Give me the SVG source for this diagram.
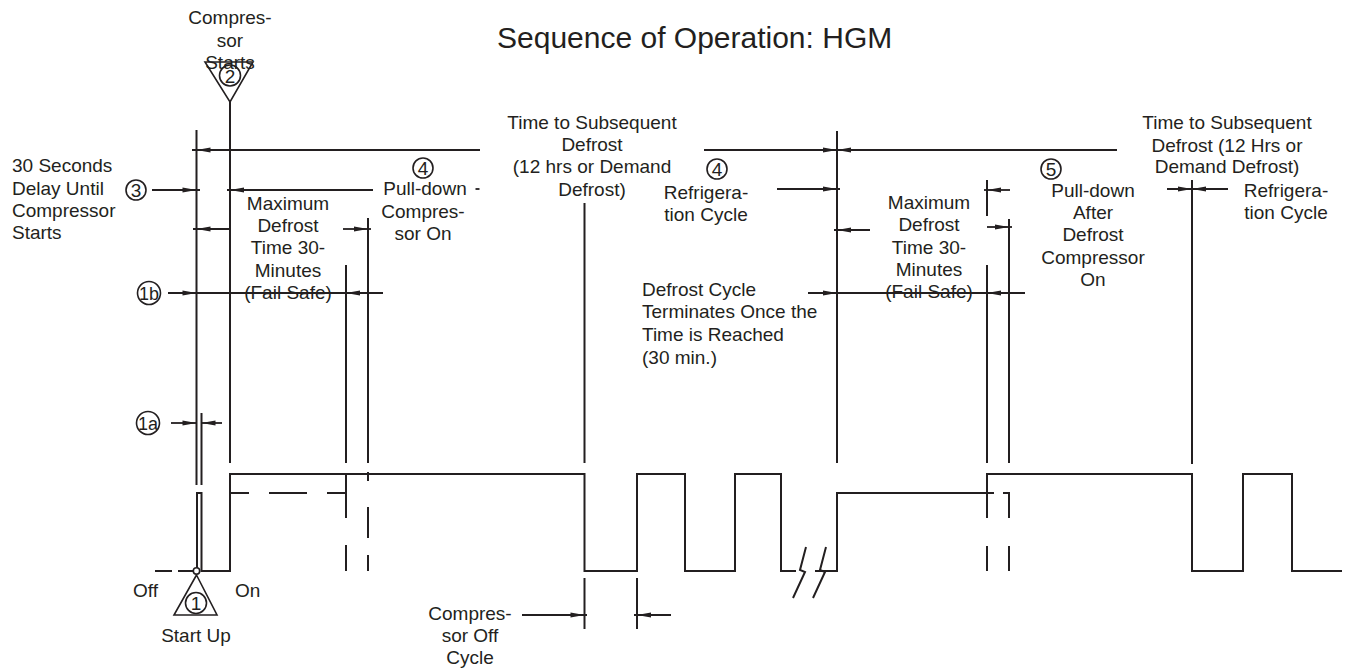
<svg xmlns="http://www.w3.org/2000/svg" xmlns:xlink="http://www.w3.org/1999/xlink" width="1348" height="671" viewBox="0 0 1348 671">
<style>
.l{stroke:#231f20;stroke-width:2;fill:none}
.a{stroke:#231f20;stroke-width:1.8;fill:none}
.t{font-family:"Liberation Sans",Arial,Helvetica,sans-serif;font-size:19px;fill:#231f20}
.c{text-anchor:middle}
.ci{fill:#fff;stroke:#231f20;stroke-width:1.6}
.cn{fill:none;stroke:#231f20;stroke-width:1.6}
</style>
<defs>
<path id="ahR" d="M0,0 L-14,-2.6 L-14,2.6 Z" fill="#231f20"/>
<path id="ahL" d="M0,0 L14,-2.6 L14,2.6 Z" fill="#231f20"/>
</defs>
<rect width="1348" height="671" fill="#fff"/>

<g id="title"><text class="t" x="497" y="48" style="font-size:30px">Sequence of Operation: HGM</text></g>

<g id="connectors">
<!-- vertical reference lines -->
<line class="l" x1="196.5" y1="130" x2="196.5" y2="485"/>
<line class="l" x1="201.5" y1="413" x2="201.5" y2="485"/>
<line class="l" x1="230" y1="102" x2="230" y2="463"/>
<line class="l" x1="346" y1="265" x2="346" y2="463"/>
<line class="l" x1="368" y1="218" x2="368" y2="463"/>
<line class="l" x1="584.5" y1="203" x2="584.5" y2="463"/>
<line class="l" x1="837" y1="131" x2="837" y2="463"/>
<line class="l" x1="987" y1="180" x2="987" y2="216"/>
<line class="l" x1="987" y1="265" x2="987" y2="463"/>
<line class="l" x1="1009" y1="219" x2="1009" y2="463"/>
<line class="l" x1="1192" y1="180" x2="1192" y2="464"/>
<!-- top span line -->
<line class="a" x1="192" y1="150" x2="480" y2="150"/>
<use xlink:href="#ahL" x="196.5" y="150"/>
<line class="a" x1="704" y1="150" x2="1117" y2="150"/>
<use xlink:href="#ahR" x="837" y="150"/>
<use xlink:href="#ahL" x="837" y="150"/>
<!-- row 190 -->
<line class="a" x1="152" y1="190" x2="200" y2="190"/>
<use xlink:href="#ahR" x="196.5" y="190"/>
<line class="a" x1="227" y1="190" x2="373" y2="190"/>
<use xlink:href="#ahL" x="230" y="190"/>
<line class="a" x1="475.5" y1="189" x2="479.5" y2="189"/>
<line class="a" x1="777" y1="189" x2="840" y2="189"/>
<use xlink:href="#ahR" x="837" y="189"/>
<line class="a" x1="984" y1="190" x2="1010" y2="190"/>
<use xlink:href="#ahL" x="987" y="190"/>
<line class="a" x1="1167" y1="189" x2="1228" y2="189"/>
<use xlink:href="#ahR" x="1192" y="189"/>
<use xlink:href="#ahL" x="1192" y="189"/>
<!-- row 229 -->
<line class="a" x1="193" y1="229" x2="229" y2="229"/>
<use xlink:href="#ahL" x="196.5" y="229"/>
<line class="a" x1="343" y1="229" x2="371" y2="229"/>
<use xlink:href="#ahR" x="368" y="229"/>
<line class="a" x1="834" y1="230" x2="870" y2="230"/>
<use xlink:href="#ahL" x="837" y="230"/>
<line class="a" x1="987" y1="227" x2="1012" y2="227"/>
<use xlink:href="#ahR" x="1009" y="227"/>
<!-- row 293 -->
<line class="a" x1="168" y1="293" x2="383" y2="293"/>
<use xlink:href="#ahR" x="196.5" y="293"/>
<use xlink:href="#ahL" x="346" y="293"/>
<line class="a" x1="808" y1="293" x2="1025" y2="293"/>
<use xlink:href="#ahR" x="837" y="293"/>
<use xlink:href="#ahL" x="987" y="293"/>
<!-- row 423 (1a) -->
<line class="a" x1="171" y1="423" x2="196.5" y2="423"/>
<use xlink:href="#ahR" x="196.5" y="423"/>
<line class="a" x1="201.5" y1="423" x2="222" y2="423"/>
<use xlink:href="#ahL" x="201.5" y="423"/>
<!-- compressor off cycle -->
<line class="l" x1="584.5" y1="578" x2="584.5" y2="629"/>
<line class="l" x1="637" y1="578" x2="637" y2="629"/>
<line class="a" x1="522" y1="615" x2="587" y2="615"/>
<use xlink:href="#ahR" x="584.5" y="615"/>
<line class="a" x1="634" y1="615" x2="671" y2="615"/>
<use xlink:href="#ahL" x="637" y="615"/>
<!-- signal -->
<path class="l" d="M197,571 V493 H201.5 V571 H230 V474 H584.5 V571 H637 V474 H685 V571 H735 V474 H781 V571 H796"/>
<path class="l" d="M815,571 H837 V493 H987 V474 H1192 V571 H1243 V474 H1292 V571 H1342"/>
<line class="l" x1="155" y1="571" x2="193" y2="571" stroke-dasharray="17 6"/>
<!-- break marks -->
<path class="l" d="M806,547 L800,570 L805,572 L793,598" stroke-width="1.8"/>
<path class="l" d="M826,547 L820,570 L825,572 L813,598" stroke-width="1.8"/>
<!-- left dashed alternatives -->
<path class="l" d="M230,493 H249 M269,493 H307 M327,493 H346"/>
<path class="l" d="M346,473 V518 M346,545 V571"/>
<path class="l" d="M368,472 V481 M368,507 V538 M368,555 V571"/>
<!-- right dashed alternatives -->
<path class="l" d="M987,493 H994 M1003,493 H1009 V518 M1009,546 V571"/>
<path class="l" d="M987,493 V518 M987,546 V571"/>
</g>

<g id="node-2">
<text class="t c" x="230" y="24">Compres-</text>
<text class="t c" x="230" y="47">sor</text>
<text class="t c" x="230" y="69">Starts</text>
<path class="cn" d="M205,62 L253,62 L230,102 Z"/>
<circle class="cn" cx="230" cy="75.5" r="10.5"/>
<text class="t c" x="230" y="82.5">2</text>
</g>

<g id="node-1">
<circle class="ci" cx="196.5" cy="571" r="3.2"/>
<path class="cn" d="M196.5,575 L217,615 L174,615 Z"/>
<circle class="cn" cx="196" cy="603" r="10.5"/>
<text class="t c" x="196" y="610">1</text>
<text class="t" x="133" y="597">Off</text>
<text class="t" x="235" y="597">On</text>
<text class="t c" x="196" y="642">Start Up</text>
</g>

<g id="node-3">
<text class="t" x="12" y="172">30 Seconds</text>
<text class="t" x="12" y="195">Delay Until</text>
<text class="t" x="12" y="217">Compressor</text>
<text class="t" x="12" y="239">Starts</text>
<circle class="cn" cx="136" cy="190" r="10"/>
<text class="t c" x="136" y="197">3</text>
</g>

<g id="node-1b">
<circle class="cn" cx="149" cy="293" r="11.5"/>
<text class="t c" x="149" y="300" style="font-size:18px">1b</text>
</g>

<g id="node-1a">
<circle class="cn" cx="148" cy="423" r="11.5"/>
<text class="t c" x="148" y="430" style="font-size:18px">1a</text>
</g>

<g id="node-maxdefrost-1">
<text class="t c" x="288" y="210">Maximum</text>
<text class="t c" x="288" y="232">Defrost</text>
<text class="t c" x="288" y="254">Time 30-</text>
<text class="t c" x="288" y="277">Minutes</text>
<text class="t c" x="288" y="299">(Fail Safe)</text>
</g>

<g id="node-4a">
<circle class="cn" cx="423" cy="168" r="10"/>
<text class="t c" x="423" y="175">4</text>
<text class="t c" x="425" y="195">Pull-down</text>
<text class="t c" x="423" y="218">Compres-</text>
<text class="t c" x="423" y="240">sor On</text>
</g>

<g id="node-subsequent-1">
<text class="t c" x="592" y="129">Time to Subsequent</text>
<text class="t c" x="592" y="151">Defrost</text>
<text class="t c" x="592" y="173">(12 hrs or Demand</text>
<text class="t c" x="592" y="196">Defrost)</text>
</g>

<g id="node-4b">
<circle class="cn" cx="717" cy="169" r="10"/>
<text class="t c" x="717" y="176">4</text>
<text class="t c" x="706" y="199">Refrigera-</text>
<text class="t c" x="706" y="221">tion Cycle</text>
</g>

<g id="node-terminates">
<text class="t" x="642" y="296">Defrost Cycle</text>
<text class="t" x="642" y="318">Terminates Once the</text>
<text class="t" x="642" y="341">Time is Reached</text>
<text class="t" x="642" y="364">(30 min.)</text>
</g>

<g id="node-offcycle">
<text class="t c" x="470" y="620">Compres-</text>
<text class="t c" x="470" y="642">sor Off</text>
<text class="t c" x="470" y="664">Cycle</text>
</g>

<g id="node-maxdefrost-2">
<text class="t c" x="929" y="209">Maximum</text>
<text class="t c" x="929" y="231">Defrost</text>
<text class="t c" x="929" y="254">Time 30-</text>
<text class="t c" x="929" y="276">Minutes</text>
<text class="t c" x="929" y="298">(Fail Safe)</text>
</g>

<g id="node-5">
<circle class="cn" cx="1051" cy="169" r="10"/>
<text class="t c" x="1051" y="176">5</text>
<text class="t c" x="1093" y="197">Pull-down</text>
<text class="t c" x="1093" y="219">After</text>
<text class="t c" x="1093" y="241">Defrost</text>
<text class="t c" x="1093" y="264">Compressor</text>
<text class="t c" x="1093" y="286">On</text>
</g>

<g id="node-subsequent-2">
<text class="t c" x="1227" y="129">Time to Subsequent</text>
<text class="t c" x="1227" y="152">Defrost (12 Hrs or</text>
<text class="t c" x="1227" y="173">Demand Defrost)</text>
</g>

<g id="node-refrig-2">
<text class="t c" x="1286" y="197">Refrigera-</text>
<text class="t c" x="1286" y="219">tion Cycle</text>
</g>
</svg>
